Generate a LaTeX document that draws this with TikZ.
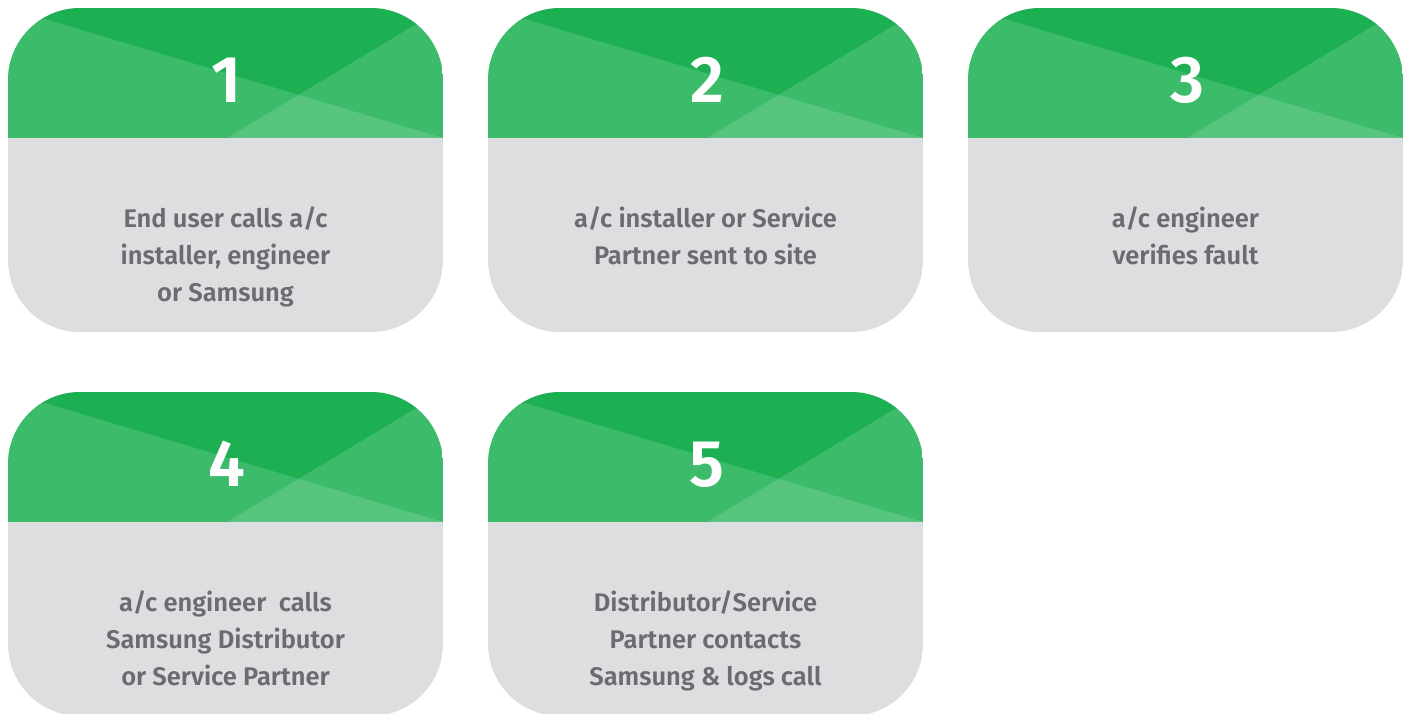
\documentclass[tikz,border=0pt]{standalone}
\usepackage{fontspec}
\setmainfont{Fira Sans}[BoldFont={Fira Sans SemiBold}]
\usepackage{tikz}
\definecolor{headgreen}{RGB}{29,176,83}
\definecolor{bodygray}{RGB}{221,222,224}
\definecolor{textgray}{RGB}{106,108,112}

\begin{document}
\begin{tikzpicture}[x=1pt, y=-1pt,
        cardtxt/.style={text=textgray, inner sep=0pt, align=center,
              font=\fontsize{25.5}{37}\selectfont\bfseries},
        cardnum/.style={text=white, inner sep=0pt,
              font=\fontsize{66}{66}\selectfont\bfseries},
        sheen/.style={fill=white, fill opacity=0.14}]
    \useasboundingbox (0,0) rectangle (1410,713);
    \foreach \n/\cx/\cy/\lbl in {
            1/8/8/{End user calls a/c\\installer, engineer\\or Samsung},
            2/488/8/{a/c installer or Service\\Partner sent to site},
            3/968/8/{a/c engineer\\verifies fault},
            4/8/392/{a/c engineer\ \ calls\\Samsung Distributor\\or Service Partner},
            5/488/392/{Distributor/Service\\Partner contacts\\Samsung \& logs call}} {
        \begin{scope}[shift={(\cx,\cy)}]
            \begin{scope}
                \clip[rounded corners=72] (0,0) rectangle (435,324);
                \fill[bodygray] (0,0) rectangle (435,324);
                \fill[headgreen] (0,0) rectangle (435,130);
                \fill[sheen] (0,0) -- (435,130) -- (0,130) -- cycle;
                \fill[sheen] (219,130) -- (435,0) -- (435,130) -- cycle;
            \end{scope}
            \node[cardnum, anchor=base] (num\n) at (219,94) {\n};
            \node[cardtxt, anchor=north] (txt\n) at (217.5,199) {\lbl};
        \end{scope}
    }
\end{tikzpicture}
\end{document}
